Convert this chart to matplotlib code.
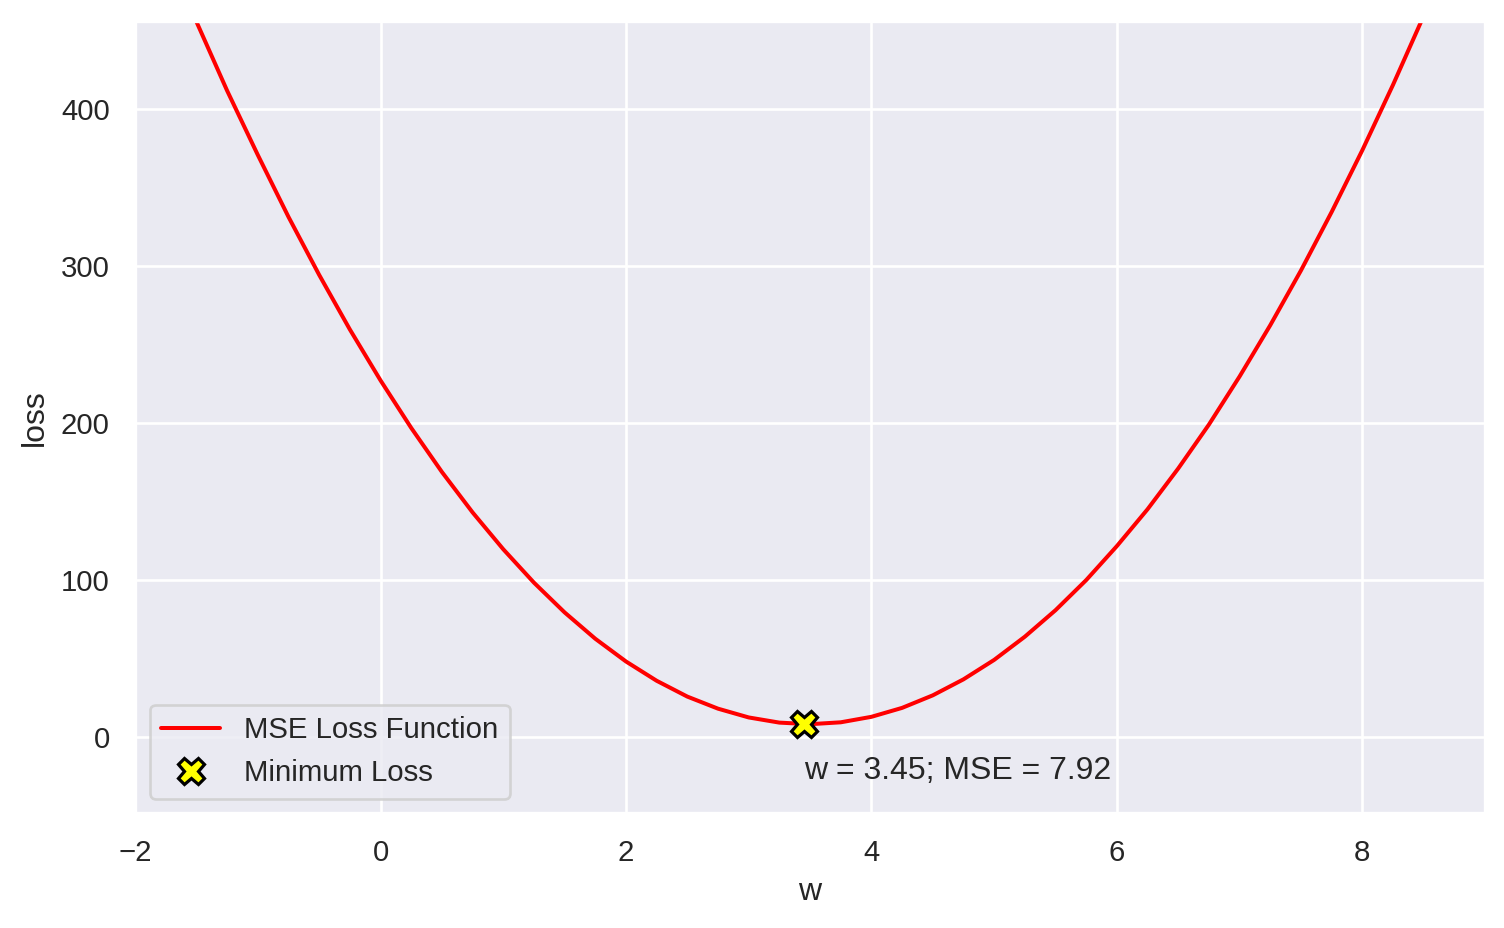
import matplotlib
matplotlib.use("Agg")
import matplotlib.pyplot as plt
import seaborn as sns

sns.set_theme(style="darkgrid")
plt.rcParams['font.family'] = ['Arial', 'Liberation Sans', 'DejaVu Sans']

# loss curve
w_vals = [-2.0, -1.75, -1.5, -1.25, -1.0, -0.75, -0.5, -0.25,
          0.0, 0.25, 0.5, 0.75, 1.0, 1.25, 1.5, 1.75,
          2.0, 2.25, 2.5, 2.75, 3.0, 3.25, 3.5, 3.75,
          4.0, 4.25, 4.5, 4.75, 5.0, 5.25, 5.5, 5.75,
          6.0, 6.25, 6.5, 6.75, 7.0, 7.25, 7.5, 7.75,
          8.0, 8.25, 8.5, 8.75, 9.0]
loss_vals = [550, 502, 456, 412, 371, 331.5, 294.5, 259.7,
             227.2, 196.9, 168.8, 143.0, 119.5, 98.2, 79.2, 62.4,
             47.9, 35.6, 25.5, 17.8, 12.2, 8.9, 7.9, 9.1,
             12.6, 18.3, 26.3, 36.5, 48.9, 63.7, 80.6, 99.8,
             121.5, 145, 171, 199, 229.7, 262.4, 297.3, 334.6,
             374.0, 415.7, 459.7, 506, 554]

w_min = 3.45
mse_min = 7.92

fig, ax = plt.subplots(figsize=(1504 / 192, 928 / 192), dpi=192)
fig.subplots_adjust(left=0.0898, right=0.9874, top=0.9775, bottom=0.1235)

ax.plot(w_vals, loss_vals, color="red", label="MSE Loss Function")
ax.plot(w_min, mse_min, "X", color="yellow", markeredgecolor="black",
        markersize=10, markeredgewidth=1.2, linestyle="none", label="Minimum Loss")
ax.text(w_min, -27, "w = %.2f; MSE = %.2f" % (w_min, mse_min), fontsize=12,
        color="#262626")

ax.set_xlim(-2, 9)
ax.set_ylim(-49, 456.5)
ax.set_xlabel("w")
ax.set_ylabel("loss")
ax.legend(loc="lower left")

fig.savefig("out.png", dpi=192)
